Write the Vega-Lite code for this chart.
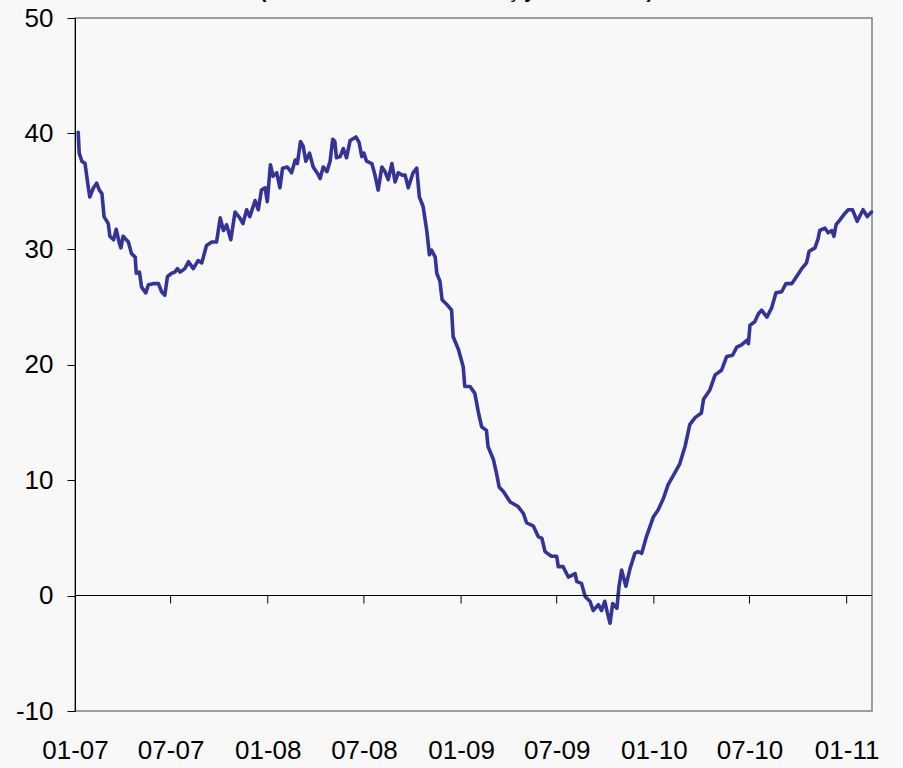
{
  "$schema": "https://vega.github.io/schema/vega-lite/v6.json",
  "width": 797,
  "height": 693,
  "autosize": {"type": "none"},
  "padding": {"left": 75, "top": 18, "right": 31, "bottom": 57},
  "background": "#f8f8f8",
  "config": {"view": {"stroke": "#808080", "strokeWidth": 1.5}, "font": "Liberation Sans"},
  "title": {"text": "(Kur etkisinden arındırılmış yıllık % artım)", "font": "Liberation Sans", "fontSize": 20, "fontWeight": "bold", "color": "#000000", "anchor": "middle", "frame": "group", "offset": 0, "dx": -17, "dy": -3},
  "datasets": {
    "series": [
      {"date":"2007-01-07","value":40.1},{"date":"2007-01-09","value":38.3},{"date":"2007-01-14","value":37.6},{"date":"2007-01-20","value":37.4},{"date":"2007-01-26","value":35.4},{"date":"2007-01-29","value":34.5},{"date":"2007-02-05","value":35.3},{"date":"2007-02-11","value":35.7},{"date":"2007-02-16","value":35.1},{"date":"2007-02-21","value":34.8},{"date":"2007-02-25","value":32.8},{"date":"2007-03-05","value":32.2},{"date":"2007-03-08","value":31.1},{"date":"2007-03-15","value":30.8},{"date":"2007-03-20","value":31.7},{"date":"2007-03-26","value":30.5},{"date":"2007-03-29","value":30.1},{"date":"2007-04-02","value":31.1},{"date":"2007-04-12","value":30.6},{"date":"2007-04-18","value":29.6},{"date":"2007-04-25","value":29.3},{"date":"2007-04-27","value":27.9},{"date":"2007-05-03","value":28.0},{"date":"2007-05-07","value":26.7},{"date":"2007-05-15","value":26.2},{"date":"2007-05-20","value":26.9},{"date":"2007-05-29","value":27.0},{"date":"2007-06-08","value":27.0},{"date":"2007-06-14","value":26.3},{"date":"2007-06-20","value":26.0},{"date":"2007-06-25","value":27.6},{"date":"2007-07-03","value":27.9},{"date":"2007-07-09","value":28.0},{"date":"2007-07-14","value":28.3},{"date":"2007-07-19","value":28.0},{"date":"2007-07-28","value":28.3},{"date":"2007-08-04","value":28.9},{"date":"2007-08-13","value":28.3},{"date":"2007-08-22","value":29.0},{"date":"2007-08-29","value":28.8},{"date":"2007-09-07","value":30.3},{"date":"2007-09-17","value":30.6},{"date":"2007-09-26","value":30.6},{"date":"2007-10-03","value":32.7},{"date":"2007-10-09","value":31.6},{"date":"2007-10-15","value":32.1},{"date":"2007-10-23","value":30.8},{"date":"2007-10-31","value":33.2},{"date":"2007-11-09","value":32.7},{"date":"2007-11-15","value":32.2},{"date":"2007-11-22","value":33.4},{"date":"2007-11-28","value":32.8},{"date":"2007-12-08","value":34.2},{"date":"2007-12-14","value":33.4},{"date":"2007-12-20","value":35.1},{"date":"2007-12-27","value":35.3},{"date":"2007-12-31","value":34.1},
      {"date":"2008-01-06","value":37.3},{"date":"2008-01-11","value":36.3},{"date":"2008-01-18","value":36.6},{"date":"2008-01-24","value":35.3},{"date":"2008-01-29","value":37.0},{"date":"2008-02-07","value":37.1},{"date":"2008-02-15","value":36.6},{"date":"2008-02-22","value":37.7},{"date":"2008-02-26","value":37.4},{"date":"2008-03-03","value":39.3},{"date":"2008-03-08","value":38.9},{"date":"2008-03-13","value":37.6},{"date":"2008-03-20","value":38.3},{"date":"2008-03-27","value":37.1},{"date":"2008-04-06","value":36.4},{"date":"2008-04-09","value":36.1},{"date":"2008-04-15","value":37.1},{"date":"2008-04-22","value":36.7},{"date":"2008-04-28","value":37.6},{"date":"2008-05-03","value":39.5},{"date":"2008-05-07","value":39.3},{"date":"2008-05-10","value":37.9},{"date":"2008-05-17","value":38.0},{"date":"2008-05-23","value":38.7},{"date":"2008-05-29","value":37.9},{"date":"2008-06-05","value":39.4},{"date":"2008-06-16","value":39.7},{"date":"2008-06-22","value":39.2},{"date":"2008-06-27","value":38.0},{"date":"2008-07-01","value":38.3},{"date":"2008-07-06","value":37.6},{"date":"2008-07-16","value":37.4},{"date":"2008-07-22","value":36.4},{"date":"2008-07-28","value":35.1},{"date":"2008-08-04","value":37.1},{"date":"2008-08-10","value":36.7},{"date":"2008-08-16","value":36.0},{"date":"2008-08-23","value":37.4},{"date":"2008-08-29","value":35.8},{"date":"2008-09-04","value":36.6},{"date":"2008-09-11","value":36.4},{"date":"2008-09-17","value":36.4},{"date":"2008-09-23","value":35.3},{"date":"2008-10-02","value":36.6},{"date":"2008-10-09","value":37.0},{"date":"2008-10-14","value":34.5},{"date":"2008-10-21","value":33.7},{"date":"2008-10-28","value":31.6},{"date":"2008-11-02","value":29.5},{"date":"2008-11-06","value":29.9},{"date":"2008-11-13","value":29.3},{"date":"2008-11-16","value":27.9},{"date":"2008-11-22","value":27.2},{"date":"2008-11-26","value":25.6},{"date":"2008-12-05","value":25.2},{"date":"2008-12-14","value":24.7},{"date":"2008-12-17","value":22.4},{"date":"2008-12-27","value":21.3},
      {"date":"2009-01-05","value":19.8},{"date":"2009-01-08","value":18.1},{"date":"2009-01-18","value":18.1},{"date":"2009-01-27","value":17.5},{"date":"2009-02-03","value":15.8},{"date":"2009-02-09","value":14.6},{"date":"2009-02-18","value":14.3},{"date":"2009-02-21","value":12.9},{"date":"2009-03-03","value":11.8},{"date":"2009-03-09","value":10.6},{"date":"2009-03-14","value":9.4},{"date":"2009-03-22","value":9.0},{"date":"2009-04-04","value":8.1},{"date":"2009-04-19","value":7.7},{"date":"2009-04-29","value":7.1},{"date":"2009-05-05","value":6.3},{"date":"2009-05-18","value":6.0},{"date":"2009-05-27","value":5.1},{"date":"2009-06-03","value":4.95},{"date":"2009-06-09","value":3.8},{"date":"2009-06-21","value":3.4},{"date":"2009-07-01","value":3.4},{"date":"2009-07-04","value":2.5},{"date":"2009-07-13","value":2.5},{"date":"2009-07-23","value":1.6},{"date":"2009-08-05","value":1.9},{"date":"2009-08-08","value":1.2},{"date":"2009-08-17","value":1.05},{"date":"2009-08-24","value":-0.1},{"date":"2009-09-02","value":-0.5},{"date":"2009-09-08","value":-1.3},{"date":"2009-09-18","value":-0.8},{"date":"2009-09-24","value":-1.3},{"date":"2009-09-30","value":-0.5},{"date":"2009-10-05","value":-1.5},{"date":"2009-10-10","value":-2.4},{"date":"2009-10-15","value":-0.7},{"date":"2009-10-23","value":-1.1},{"date":"2009-10-27","value":0.8},{"date":"2009-11-01","value":2.2},{"date":"2009-11-09","value":0.8},{"date":"2009-11-17","value":2.35},{"date":"2009-11-26","value":3.65},{"date":"2009-12-02","value":3.8},{"date":"2009-12-09","value":3.65},{"date":"2009-12-18","value":5.1},{"date":"2009-12-31","value":6.8},
      {"date":"2010-01-09","value":7.4},{"date":"2010-01-19","value":8.4},{"date":"2010-01-28","value":9.6},{"date":"2010-02-07","value":10.4},{"date":"2010-02-19","value":11.4},{"date":"2010-03-01","value":12.9},{"date":"2010-03-10","value":14.8},{"date":"2010-03-20","value":15.4},{"date":"2010-04-01","value":15.8},{"date":"2010-04-05","value":17.0},{"date":"2010-04-17","value":17.8},{"date":"2010-04-27","value":19.1},{"date":"2010-05-09","value":19.5},{"date":"2010-05-19","value":20.7},{"date":"2010-05-30","value":20.8},{"date":"2010-06-07","value":21.5},{"date":"2010-06-16","value":21.7},{"date":"2010-06-26","value":22.1},{"date":"2010-06-29","value":21.8},{"date":"2010-07-02","value":23.4},{"date":"2010-07-11","value":23.7},{"date":"2010-07-18","value":24.4},{"date":"2010-07-24","value":24.7},{"date":"2010-08-03","value":24.1},{"date":"2010-08-12","value":24.9},{"date":"2010-08-20","value":26.2},{"date":"2010-08-31","value":26.3},{"date":"2010-09-08","value":27.0},{"date":"2010-09-19","value":27.0},{"date":"2010-09-28","value":27.6},{"date":"2010-10-08","value":28.3},{"date":"2010-10-17","value":28.8},{"date":"2010-10-22","value":29.8},{"date":"2010-11-02","value":30.1},{"date":"2010-11-08","value":30.9},{"date":"2010-11-11","value":31.6},{"date":"2010-11-21","value":31.8},{"date":"2010-11-27","value":31.4},{"date":"2010-12-04","value":31.6},{"date":"2010-12-08","value":31.1},{"date":"2010-12-12","value":32.1},{"date":"2010-12-19","value":32.5},{"date":"2010-12-29","value":33.1},
      {"date":"2011-01-04","value":33.4},{"date":"2011-01-12","value":33.4},{"date":"2011-01-21","value":32.4},{"date":"2011-02-01","value":33.4},{"date":"2011-02-09","value":32.8},{"date":"2011-02-17","value":33.2}
    ],
    "zero": [{"date": "2007-01-01", "date2": "2011-02-18", "value": 0}],
    "ticks": [
      {"date":"2007-07-01","value":0,"value2":-0.7},{"date":"2008-01-01","value":0,"value2":-0.7},{"date":"2008-07-01","value":0,"value2":-0.7},{"date":"2009-01-01","value":0,"value2":-0.7},{"date":"2009-07-01","value":0,"value2":-0.7},{"date":"2010-01-01","value":0,"value2":-0.7},{"date":"2010-07-01","value":0,"value2":-0.7},{"date":"2011-01-01","value":0,"value2":-0.7}
    ]
  },
  "encoding": {
    "x": {
      "field": "date", "type": "temporal", "title": null,
      "scale": {"type": "utc", "domain": [{"year": 2007, "month": 1, "date": 1, "utc": true}, {"year": 2011, "month": 2, "date": 18, "utc": true}], "nice": false},
      "axis": {
        "orient": "bottom", "labelExpr": "utcFormat(datum.value, '%m-%y')",
        "values": [
          {"year": 2007, "month": 1, "date": 1, "utc": true},
          {"year": 2007, "month": 7, "date": 1, "utc": true},
          {"year": 2008, "month": 1, "date": 1, "utc": true},
          {"year": 2008, "month": 7, "date": 1, "utc": true},
          {"year": 2009, "month": 1, "date": 1, "utc": true},
          {"year": 2009, "month": 7, "date": 1, "utc": true},
          {"year": 2010, "month": 1, "date": 1, "utc": true},
          {"year": 2010, "month": 7, "date": 1, "utc": true},
          {"year": 2011, "month": 1, "date": 1, "utc": true}
        ],
        "ticks": false, "tickSize": 0, "domain": false, "grid": false,
        "labelFont": "Liberation Sans", "labelFontSize": 26, "labelColor": "#000000",
        "labelPadding": 26, "labelFlush": false, "labelOverlap": false
      }
    },
    "y": {
      "field": "value", "type": "quantitative", "title": null,
      "scale": {"domain": [-10, 50], "nice": false, "zero": false},
      "axis": {
        "values": [-10, 0, 10, 20, 30, 40, 50],
        "labelExpr": "datum.value < 0 ? '-' + abs(datum.value) : '' + datum.value",
        "grid": false, "domain": true, "domainColor": "#000000", "domainWidth": 1,
        "ticks": true, "tickColor": "#000000", "tickSize": 8, "tickWidth": 1,
        "labelFont": "Liberation Sans", "labelFontSize": 26, "labelColor": "#000000",
        "labelPadding": 14, "labelFlush": false, "labelOverlap": false
      }
    }
  },
  "layer": [
    {
      "data": {"name": "series"},
      "mark": {"type": "line", "color": "#333399", "strokeWidth": 3.6, "strokeJoin": "round", "strokeCap": "round"}
    },
    {
      "data": {"name": "zero"},
      "mark": {"type": "rule", "color": "#000000", "strokeWidth": 1},
      "encoding": {"x2": {"field": "date2"}}
    },
    {
      "data": {"name": "ticks"},
      "mark": {"type": "rule", "color": "#000000", "strokeWidth": 1},
      "encoding": {"y2": {"field": "value2"}}
    }
  ]
}
